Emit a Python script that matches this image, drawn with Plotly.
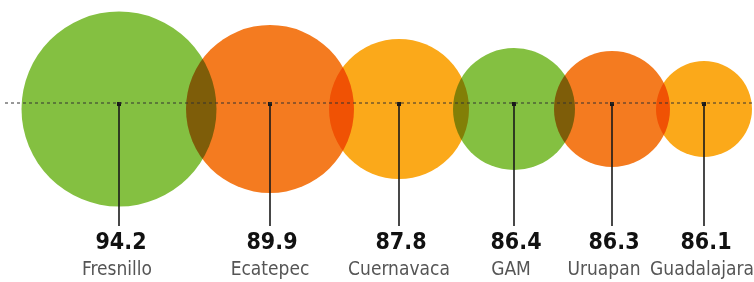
import plotly.graph_objects as go

# ---- data ----
cities = ["Fresnillo", "Ecatepec", "Cuernavaca", "GAM", "Uruapan", "Guadalajara"]
values = [94.2, 89.9, 87.8, 86.4, 86.3, 86.1]

# ---- layout / style constants (pixel-space axes) ----
W, H = 754, 282
x_pos = [119, 270, 399, 514, 612, 704]          # bubble centres along the row
diam = [195, 168, 140, 122, 116, 96]              # bubble diameters (px)
palette = ["#84C041", "#F47B20", "#FBA91A", "#84C041", "#F47B20", "#FBA91A"]
bubble_y = 109
base_y = 103
stem_end = 226
value_y = 243
name_y = 270
label_dx = 2
name_dx = [-2, 0, 0, -3, -8, -2]
font_cond = "DejaVu Sans Condensed, Liberation Sans Narrow, Roboto, sans-serif"

fig = go.Figure()

# bubbles
fig.add_trace(go.Scatter(
    x=x_pos, y=[bubble_y] * len(cities), mode="markers",
    marker=dict(size=diam, sizemode="diameter", color=palette,
                line=dict(width=0), opacity=1),
    hoverinfo="skip", showlegend=False))

# stems
sx, sy = [], []
for x in x_pos:
    sx += [x, x, None]
    sy += [base_y, stem_end, None]
fig.add_trace(go.Scatter(x=sx, y=sy, mode="lines",
                         line=dict(color="#1a1a1a", width=1.6),
                         hoverinfo="skip", showlegend=False))
fig.add_trace(go.Scatter(x=x_pos, y=[base_y + 1] * len(cities), mode="markers",
                         marker=dict(size=4, color="#1a1a1a", symbol="square"),
                         hoverinfo="skip", showlegend=False))

# value labels
fig.add_trace(go.Scatter(
    x=[x + label_dx for x in x_pos], y=[value_y] * len(cities), mode="text",
    text=[f"{v:.1f}" for v in values],
    textfont=dict(family=font_cond, size=23, color="#111111", weight="bold"),
    hoverinfo="skip", showlegend=False))

# city names
fig.add_trace(go.Scatter(
    x=[x + d for x, d in zip(x_pos, name_dx)], y=[name_y] * len(cities), mode="text",
    text=cities,
    textfont=dict(family=font_cond, size=19, color="#555555"),
    hoverinfo="skip", showlegend=False))

# dotted baseline
fig.add_shape(type="line", x0=5, x1=W, y0=base_y, y1=base_y,
              line=dict(color="#333333", width=1, dash="dot"), layer="above")

fig.update_layout(
    width=W, height=H, margin=dict(l=0, r=0, t=0, b=0),
    paper_bgcolor="white", plot_bgcolor="white",
    xaxis=dict(range=[0, W], visible=False, fixedrange=True),
    yaxis=dict(range=[H, 0], visible=False, fixedrange=True),
)

post = """
document.body.style.margin = '0';
document.body.style.overflow = 'hidden';
var traces = document.querySelectorAll('.scatterlayer .trace');
if (traces.length) {
  traces[0].querySelectorAll('path.point').forEach(function(p){ p.style.mixBlendMode = 'multiply'; });
}
"""
fig.write_html("out.html", post_script=post, config={"displayModeBar": False})
